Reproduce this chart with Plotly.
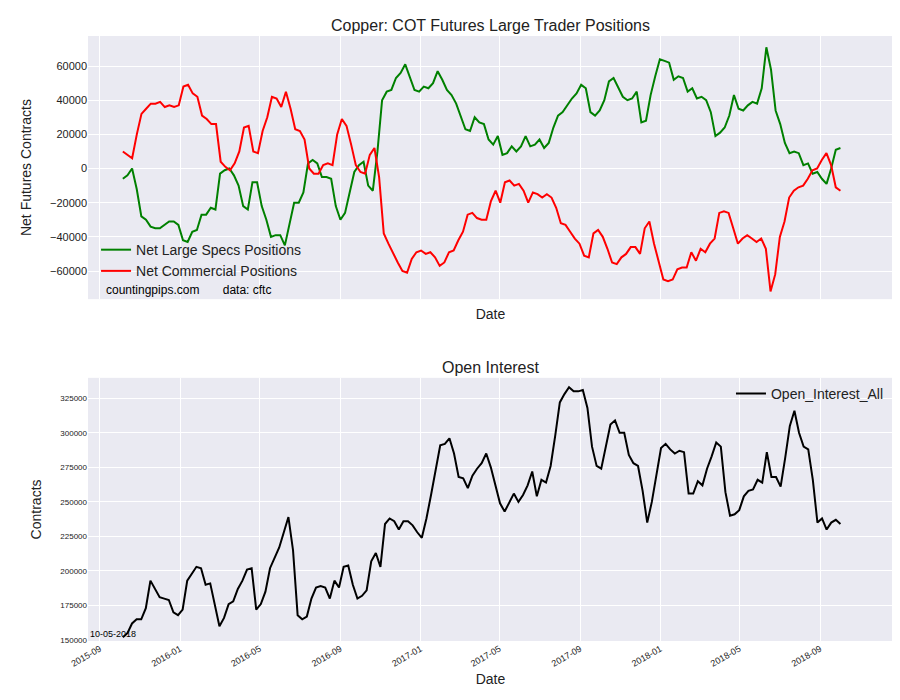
import pandas as pd
import plotly.graph_objects as go
from plotly.subplots import make_subplots

# weekly COT readings, first report 2015-10-06, last 2018-10-02
specs = [-6000, -4000, 0, -12000, -28000, -30000, -34000, -35000, -35000, -33000, -31000, -31000, -33000,
         -42000, -43000, -37000, -36000, -27000, -27000, -23000, -24000, -3000, -1000, 0, -4000, -10000,
         -22000, -24000, -8000, -8000, -22000, -30000, -40000, -39000, -39000, -45000, -33000, -20000,
         -20000, -14000, 3000, 5000, 3000, -5000, -5000, -6000, -22000, -30000, -26000, -14000, -2000,
         2000, 4000, -10000, -13000, 10000, 40000, 45000, 46000, 53000, 56000, 61000, 53000, 46000, 45000,
         48000, 47000, 50000, 57000, 52000, 46000, 43000, 38000, 30000, 23000, 22000, 30000, 27000, 26000,
         17000, 14000, 19000, 8000, 9000, 13000, 10000, 13000, 19000, 13000, 14000, 17000, 12000, 15000,
         24000, 31000, 33000, 37000, 41000, 44000, 49000, 47000, 33000, 31000, 34000, 40000, 51000, 53000,
         47000, 42000, 40000, 41000, 45000, 27000, 28000, 43000, 54000, 64000, 63000, 62000, 52000, 54000,
         53000, 45000, 47000, 41000, 42000, 40000, 33000, 19000, 21000, 24000, 31000, 43000, 35000, 34000,
         37000, 39000, 38000, 47000, 71000, 58000, 34000, 26000, 15000, 9000, 10000, 9000, 2000, 3000,
         -3000, -2000, -6000, -9000, 0, 11000, 12000]
commercial = [10000, 8000, 6000, 20000, 32000, 35000, 38000, 38000, 39000, 36000, 37000, 36000, 37000,
              48000, 49000, 44000, 42000, 31000, 29000, 26000, 26000, 4000, 1000, -1000, 3000, 10000,
              24000, 25000, 10000, 9000, 22000, 30000, 42000, 41000, 36000, 45000, 35000, 23000, 22000,
              17000, 0, -3000, -3000, 2000, 3000, 2000, 20000, 29000, 25000, 14000, 2000, -2000, -3000,
              8000, 12000, -5000, -38000, -44000, -50000, -55000, -60000, -61000, -53000, -49000, -48000,
              -50000, -49000, -52000, -57000, -55000, -49000, -48000, -42000, -37000, -27000, -26000,
              -29000, -30000, -30000, -19000, -13000, -20000, -8000, -7000, -10000, -9000, -13000, -20000,
              -14000, -15000, -17000, -15000, -17000, -23000, -32000, -33000, -37000, -41000, -44000,
              -51000, -52000, -38000, -36000, -40000, -47000, -55000, -56000, -52000, -50000, -46000,
              -46000, -50000, -35000, -31000, -44000, -55000, -65000, -66000, -65000, -59000, -58000,
              -58000, -49000, -54000, -47000, -49000, -44000, -41000, -26000, -25000, -26000, -35000,
              -44000, -41000, -39000, -41000, -43000, -41000, -47000, -72000, -62000, -40000, -31000,
              -17000, -13000, -11000, -10000, -6000, -1000, 0, 5000, 9000, 2000, -11000, -13000]
open_interest = [152000, 155000, 162000, 165000, 165000, 173000, 193000, 187000, 181000, 180000, 179000,
                 170000, 168000, 172000, 193000, 198000, 203000, 202000, 190000, 191000, 175000, 160000,
                 166000, 176000, 178000, 187000, 193000, 201000, 202000, 172000, 176000, 185000, 202000,
                 210000, 217000, 228000, 239000, 215000, 168000, 165000, 167000, 180000, 188000, 189000,
                 188000, 180000, 193000, 188000, 203000, 204000, 190000, 180000, 182000, 186000, 207000,
                 213000, 203000, 234000, 238000, 236000, 230000, 236000, 236000, 233000, 228000, 224000,
                 238000, 255000, 274000, 291000, 292000, 296000, 285000, 268000, 267000, 260000, 269000,
                 274000, 278000, 285000, 275000, 262000, 249000, 243000, 250000, 256000, 250000, 255000,
                 262000, 272000, 254000, 266000, 264000, 276000, 298000, 322000, 328000, 333000, 330000,
                 330000, 331000, 318000, 290000, 276000, 274000, 290000, 306000, 309000, 300000, 300000,
                 284000, 278000, 276000, 258000, 235000, 250000, 270000, 289000, 292000, 288000, 285000,
                 287000, 286000, 256000, 256000, 265000, 262000, 274000, 283000, 293000, 290000, 257000,
                 240000, 241000, 244000, 254000, 258000, 259000, 266000, 264000, 286000, 268000, 268000,
                 261000, 282000, 305000, 316000, 300000, 290000, 288000, 266000, 235000, 238000, 230000,
                 235000, 237000, 234000]


def dates_for(values):
    return pd.date_range("2015-10-06", "2018-10-02", periods=len(values))


FONT = "Liberation Sans, Arial, sans-serif"
BG = "#EAEAF2"

fig = make_subplots(rows=2, cols=1, vertical_spacing=0.13,
                    subplot_titles=("Copper: COT Futures Large Trader Positions", "Open Interest"))

fig.add_trace(go.Scatter(x=dates_for(specs), y=specs, mode="lines", name="Net Large Specs Positions",
                         line=dict(color="green", width=2), legend="legend"), row=1, col=1)
fig.add_trace(go.Scatter(x=dates_for(commercial), y=commercial, mode="lines", name="Net Commercial Positions",
                         line=dict(color="red", width=2), legend="legend"), row=1, col=1)
fig.add_trace(go.Scatter(x=dates_for(open_interest), y=open_interest, mode="lines", name="Open_Interest_All",
                         line=dict(color="black", width=2), legend="legend2"), row=2, col=1)

xr = ["2015-08-14", "2018-12-21"]
tickvals = ["2015-09-01", "2016-01-01", "2016-05-01", "2016-09-01", "2017-01-01", "2017-05-01",
            "2017-09-01", "2018-01-01", "2018-05-01", "2018-09-01"]
common_x = dict(range=xr, tickvals=tickvals, showgrid=True, gridcolor="white", gridwidth=1.3,
                zeroline=False, showline=False, ticks="")
fig.update_xaxes(**common_x, showticklabels=False, title=dict(text="Date", font=dict(size=14), standoff=10),
                 row=1, col=1)
fig.update_xaxes(**common_x, ticktext=[d[:7] for d in tickvals], tickangle=-30, tickfont=dict(size=9),
                 title=dict(text="Date", font=dict(size=14), standoff=6), row=2, col=1)
fig.update_yaxes(range=[-76500, 77600], tickvals=[-60000, -40000, -20000, 0, 20000, 40000, 60000],
                 tickformat="d", tickfont=dict(size=11), showgrid=True, gridcolor="white", gridwidth=1.3,
                 zeroline=False, title=dict(text="Net Futures Contracts", font=dict(size=14)), row=1, col=1)
fig.update_yaxes(range=[149300, 339800], tickvals=list(range(150000, 330000, 25000)), tickformat="d",
                 tickfont=dict(size=8), showgrid=True, gridcolor="white", gridwidth=1.3, zeroline=False,
                 title=dict(text="Contracts", font=dict(size=14)), row=2, col=1)

fig.update_annotations(font=dict(size=16, color="#222"))
fig.add_annotation(text="countingpips.com&nbsp;&nbsp;&nbsp;&nbsp;&nbsp;&nbsp;&nbsp;data: cftc",
                   xref="x domain", yref="y domain", x=0.02, y=0.0, xanchor="left", yanchor="bottom",
                   showarrow=False, font=dict(size=12, color="black"))
fig.add_annotation(text="10-05-2018", xref="x2 domain", yref="y2 domain", x=0.0, y=0.0,
                   xanchor="left", yanchor="bottom", showarrow=False, font=dict(size=9, color="black"))

fig.update_layout(
    width=900, height=700, paper_bgcolor="white", plot_bgcolor=BG,
    font=dict(family=FONT, color="#222"),
    margin=dict(l=80, r=15, t=28, b=67),
    legend=dict(x=0.01, y=0.585, xanchor="left", yanchor="bottom", bgcolor="rgba(0,0,0,0)",
                font=dict(size=14), tracegroupgap=0),
    legend2=dict(x=0.995, y=0.435, xanchor="right", yanchor="top", bgcolor="rgba(0,0,0,0)",
                 font=dict(size=14)),
)

fig.write_html("out.html")
